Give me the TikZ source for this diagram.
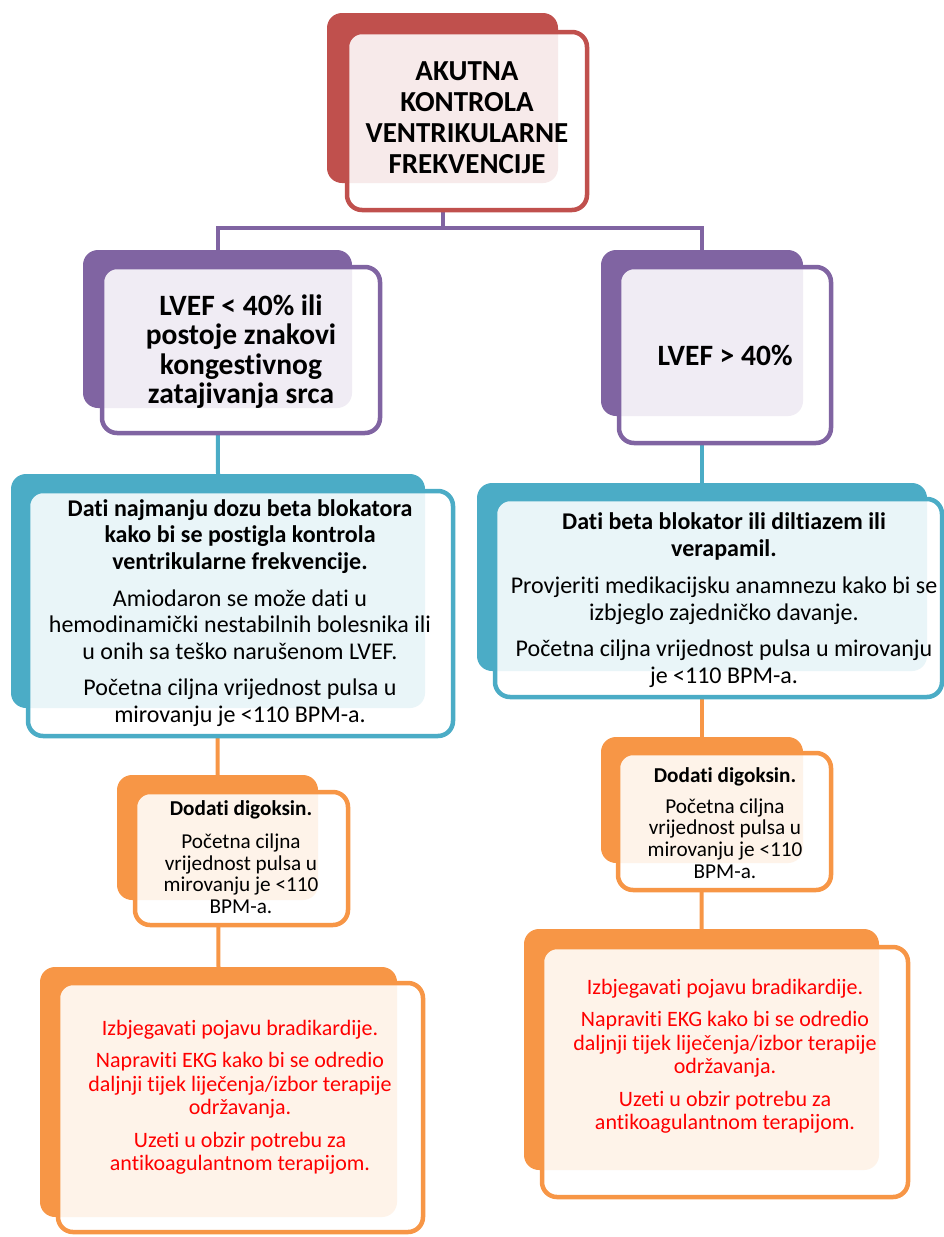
\documentclass[tikz,border=0pt]{standalone}
\usepackage{fontspec}
\setmainfont{Carlito}[Ligatures=NoCommon]
\usetikzlibrary{calc,positioning,backgrounds}

\definecolor{crvena}{HTML}{C0504D}
\definecolor{ljub}{HTML}{8064A2}
\definecolor{plava}{HTML}{4BACC6}
\definecolor{narancasta}{HTML}{F79646}
\definecolor{tekstcrv}{HTML}{FF0000}

\tikzset{
  veza/.style={line width=4pt},
  okvir/.style={line width=4.5pt, rounded corners=15pt},
  tekst/.style={align=center, inner sep=0pt},
  naslov/.style={tekst, font=\bfseries\fontsize{29}{31}\selectfont},
  uvjet/.style={tekst, font=\bfseries\fontsize{29.5}{29.3}\selectfont},
  terapija/.style={tekst, font=\fontsize{24}{26.6}\selectfont},
  dodatak/.style={tekst, font=\fontsize{21.2}{21.6}\selectfont},
  napomena/.style={tekst, text=tekstcrv, font=\fontsize{22}{23.5}\selectfont}
}

\begin{document}
\begin{tikzpicture}[x=1pt,y=-1pt]
\useasboundingbox (0,0) rectangle (944,1237);

\foreach \ime/\boja/\ax/\ay/\bx/\by/\cx/\cy/\dx/\dy in {
  vrh/crvena/327/13/558/183/347/32/587/210,
  uvjetL/ljub/83/250/352/408/102/267/380/433,
  uvjetD/ljub/601/250/803/416/619/267/831/443,
  terapL/plava/11/474/425/708/28/491/453/736,
  terapD/plava/477/483/927/671/495/499/942/697,
  digL/narancasta/117/775/318/900/135/792/348/925,
  digD/narancasta/601/737/803/863/618/753/831/890,
  napL/narancasta/40/967/397/1217/58/983/423/1232,
  napD/narancasta/524/929/879/1170/542/947/908/1197}
{
  \coordinate (\ime) at ({(\ax+\bx)/2},\ay);
  \fill[\boja, rounded corners=15pt] (\ax,\ay) rectangle (\bx,\by);
  \fill[white, rounded corners=15pt] (\cx,\cy) rectangle (\dx,\dy);
  \begin{scope}
    \clip[rounded corners=15pt] (\cx,\cy) rectangle (\dx,\dy);
    \fill[\boja!12, rounded corners=15pt] (\ax,\ay) rectangle (\bx,\by);
  \end{scope}
  \draw[\boja, okvir] (\cx,\cy) rectangle (\dx,\dy);
}

\node[naslov] (vrhT) at (467,118) {AKUTNA\\KONTROLA\\VENTRIKULARNE\\FREKVENCIJE};

\node[uvjet] (uvjetLT) at (241,351.5) {LVEF < 40\% ili\\postoje znakovi\\kongestivnog\\zatajivanja srca};
\node[uvjet] (uvjetDT) at (725,355) {LVEF > 40\%};

\node[terapija] (terapLT) at (240,613) {\textbf{Dati najmanju dozu beta blokatora}\\
  \textbf{kako bi se postigla kontrola}\\\textbf{ventrikularne frekvencije.}\\[10pt]
  Amiodaron se može dati u\\hemodinamički nestabilnih bolesnika ili\\
  u onih sa teško narušenom LVEF.\\[10pt]
  Početna ciljna vrijednost pulsa u\\mirovanju je <110 BPM-a.};
\node[terapija] (terapDT) at (724,600) {\textbf{Dati beta blokator ili diltiazem ili}\\
  \textbf{verapamil.}\\[11pt]
  Provjeriti medikacijsku anamnezu kako bi se\\izbjeglo zajedničko davanje.\\[9.5pt]
  Početna ciljna vrijednost pulsa u mirovanju\\je <110 BPM-a.};

\node[dodatak] (digLT) at (241,857) {\textbf{Dodati digoksin.}\\[12pt]
  Početna ciljna\\vrijednost pulsa u\\mirovanju je <110\\BPM-a.};
\node[dodatak] (digDT) at (725,823) {\textbf{Dodati digoksin.}\\[9pt]
  Početna ciljna\\vrijednost pulsa u\\mirovanju je <110\\BPM-a.};

\node[napomena] (napLT) at (240,1097) {Izbjegavati pojavu bradikardije.\\[9pt]
  Napraviti EKG kako bi se odredio\\daljnji tijek liječenja/izbor terapije\\održavanja.\\[9pt]
  Uzeti u obzir potrebu za\\antikoagulantnom terapijom.};
\node[napomena] (napDT) at (725,1056) {Izbjegavati pojavu bradikardije.\\[9pt]
  Napraviti EKG kako bi se odredio\\daljnji tijek liječenja/izbor terapije\\održavanja.\\[9pt]
  Uzeti u obzir potrebu za\\antikoagulantnom terapijom.};

\begin{scope}[on background layer]
\draw[veza, ljub] (vrh) -- (vrh |- 0,228) -| (uvjetL);
\draw[veza, ljub] (vrh |- 0,228) -| (uvjetD);
\draw[veza, plava] (uvjetL) -- (terapL);
\draw[veza, plava] (uvjetD) -- (terapD);
\draw[veza, narancasta] (terapL) -- (digL);
\draw[veza, narancasta] (terapD) -- (digD);
\draw[veza, narancasta] (digL) -- (napL);
\draw[veza, narancasta] (digD) -- (napD);
\end{scope}

\end{tikzpicture}
\end{document}
